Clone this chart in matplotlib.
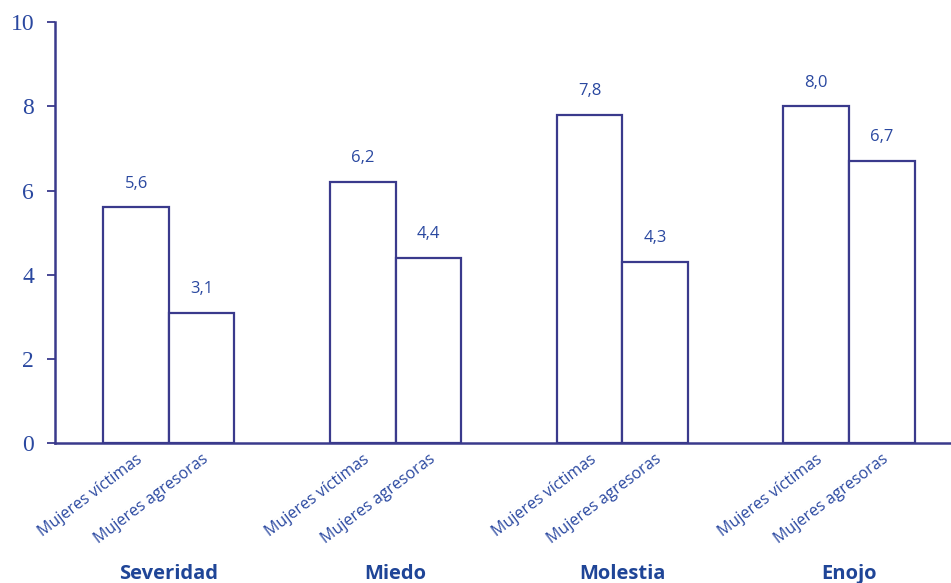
import numpy as np
import matplotlib.pyplot as plt

grupos = ["Severidad", "Miedo", "Molestia", "Enojo"]
series = ["Mujeres víctimas", "Mujeres agresoras"]
victimas = [5.6, 6.2, 7.8, 8.0]
agresoras = [3.1, 4.4, 4.3, 6.7]

linea = "#3a3a8c"
azul = "#2a48a0"
ancho = 0.289

fig = plt.figure(figsize=(9.51, 5.83), dpi=100)
ax = fig.add_axes([0.0578, 0.240, 0.9422, 0.722])

x = np.arange(len(grupos))
b1 = ax.bar(x - ancho / 2, victimas, ancho, color="white", edgecolor=linea, linewidth=1.6)
b2 = ax.bar(x + ancho / 2, agresoras, ancho, color="white", edgecolor=linea, linewidth=1.6)

for barras, vals in [(b1, victimas), (b2, agresoras)]:
    for b, v in zip(barras, vals):
        ax.annotate(f"{v:.1f}".replace(".", ","),
                    (b.get_x() + b.get_width() / 2, v),
                    xytext=(0, 17), textcoords="offset points",
                    ha="center", va="center", color=azul,
                    fontsize=12, family="Open Sans")

ax.set_xlim(-0.503, 3.45)
ax.set_ylim(0, 10)
ax.set_yticks([0, 2, 4, 6, 8, 10])
ax.tick_params(axis="y", colors=linea, length=6, width=1.3, labelsize=17,
               labelcolor=azul, pad=9)
for l in ax.get_yticklabels():
    l.set_family("Liberation Serif")

ax.set_xticks(np.concatenate([x - ancho / 2, x + ancho / 2]))
ax.set_xticklabels([series[0]] * 4 + [series[1]] * 4, rotation=37,
                   ha="right", rotation_mode="anchor", color=azul,
                   fontsize=11.5, family="Open Sans")
ax.tick_params(axis="x", length=0, pad=6)

for s in ["top", "right"]:
    ax.spines[s].set_visible(False)
for s in ["left", "bottom"]:
    ax.spines[s].set_color(linea)
    ax.spines[s].set_linewidth(1.8)

tr = ax.get_xaxis_transform()
for i, g in enumerate(grupos):
    ax.text(x[i], -0.31, g, transform=tr, ha="center", va="center",
            fontsize=14.5, fontweight="bold", color="#1f4597", family="Open Sans")

fig.savefig("out.png", dpi=100)
